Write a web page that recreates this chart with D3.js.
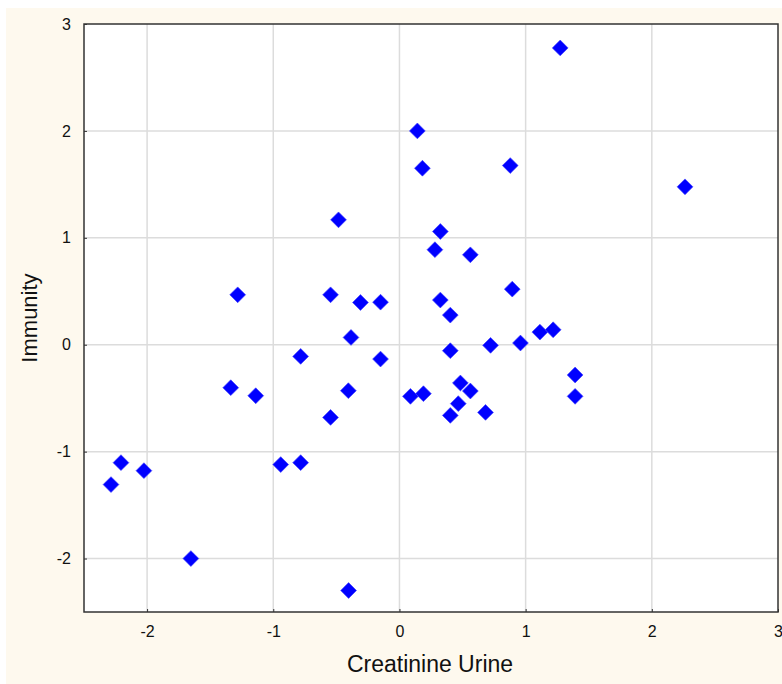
<!DOCTYPE html>
<html><head><meta charset="utf-8">
<script src="https://cdn.jsdelivr.net/npm/d3@7"></script>
<style>body{margin:0;background:#fff}svg{display:block}</style>
</head><body>
<script>
const xValues = [1.274,0.142,0.182,0.878,2.263,-0.483,0.324,0.281,0.562,-1.282,-0.546,-0.309,-0.150,0.324,0.894,0.403,-0.384,1.113,1.218,0.722,0.959,0.403,-0.783,-0.150,1.392,-1.337,-0.405,0.483,0.562,-1.139,0.087,0.190,1.392,0.466,0.403,0.682,-0.546,-2.207,-0.941,-0.783,-2.025,-2.286,-1.653,-0.403];
const yValues = [2.776,2.0,1.651,1.676,1.477,1.168,1.059,0.889,0.841,0.467,0.467,0.395,0.398,0.418,0.520,0.277,0.068,0.118,0.140,-0.006,0.016,-0.056,-0.109,-0.134,-0.283,-0.402,-0.430,-0.358,-0.433,-0.477,-0.483,-0.458,-0.483,-0.551,-0.661,-0.633,-0.680,-1.103,-1.121,-1.103,-1.178,-1.308,-2.0,-2.299];
const xTicks = [-2,-1,0,1,2,3];
const yTicks = [-2,-1,0,1,2,3];
const xLabel = "Creatinine Urine";
const yLabel = "Immunity";

const W = 782, H = 684;
const m = {left:84, right:778, top:24, bottom:612};
const FONT = "Liberation Sans, Arial, sans-serif";
const svg = d3.select("body").append("svg").attr("width",W).attr("height",H);
svg.append("rect").attr("x",6).attr("y",8).attr("width",W-6).attr("height",H-8).attr("fill","#fef9ee");
const x = d3.scaleLinear().domain([-2.5,3]).range([m.left,m.right]);
const y = d3.scaleLinear().domain([-2.5,3]).range([m.bottom,m.top]);
svg.append("rect").attr("x",m.left).attr("y",m.top).attr("width",m.right-m.left).attr("height",m.bottom-m.top).attr("fill","#fff");
const g = svg.append("g");
g.selectAll(".gx").data(xTicks.filter(t=>t<3)).join("line").attr("x1",d=>x(d)).attr("x2",d=>x(d)).attr("y1",m.top).attr("y2",m.bottom).attr("stroke","#dcdcdc").attr("stroke-width",1.5);
g.selectAll(".gy").data(yTicks.filter(t=>t<3)).join("line").attr("y1",d=>y(d)).attr("y2",d=>y(d)).attr("x1",m.left).attr("x2",m.right).attr("stroke","#dcdcdc").attr("stroke-width",1.5);

const fmt = d => String(d);
const xAxis = svg.append("g").attr("transform",`translate(0,${m.bottom})`).call(d3.axisBottom(x).tickValues(xTicks).tickSize(-3).tickPadding(14).tickFormat(fmt));
const yAxis = svg.append("g").attr("transform",`translate(${m.left},0)`).call(d3.axisLeft(y).tickValues(yTicks).tickSize(-3).tickPadding(13).tickFormat(fmt));
[xAxis,yAxis].forEach(a=>{
  a.select(".domain").remove();
  a.selectAll("line").attr("stroke","#333");
  a.selectAll("text").attr("font-family",FONT).attr("font-size",16).attr("fill","#111");
});
svg.append("rect").attr("x",m.left).attr("y",m.top).attr("width",m.right-m.left).attr("height",m.bottom-m.top).attr("fill","none").attr("stroke","#333").attr("stroke-width",1.5);

const pts = xValues.map((v,i)=>({x:v,y:yValues[i]}));
svg.append("g").selectAll("path").data(pts).join("path")
  .attr("d", d3.symbol().type(d3.symbolSquare).size(125))
  .attr("transform", d=>`translate(${x(d.x)},${y(d.y)}) rotate(45)`)
  .attr("fill","#0000ff").attr("stroke","#4040ff").attr("stroke-width",0.6);

svg.append("text").attr("x",430).attr("y",672).attr("text-anchor","middle").attr("font-family",FONT).attr("font-size",23).attr("fill","#111").text(xLabel);
svg.append("text").attr("transform","translate(37,318) rotate(-90)").attr("text-anchor","middle").attr("font-family",FONT).attr("font-size",22).attr("fill","#111").text(yLabel);
</script>
</body></html>
